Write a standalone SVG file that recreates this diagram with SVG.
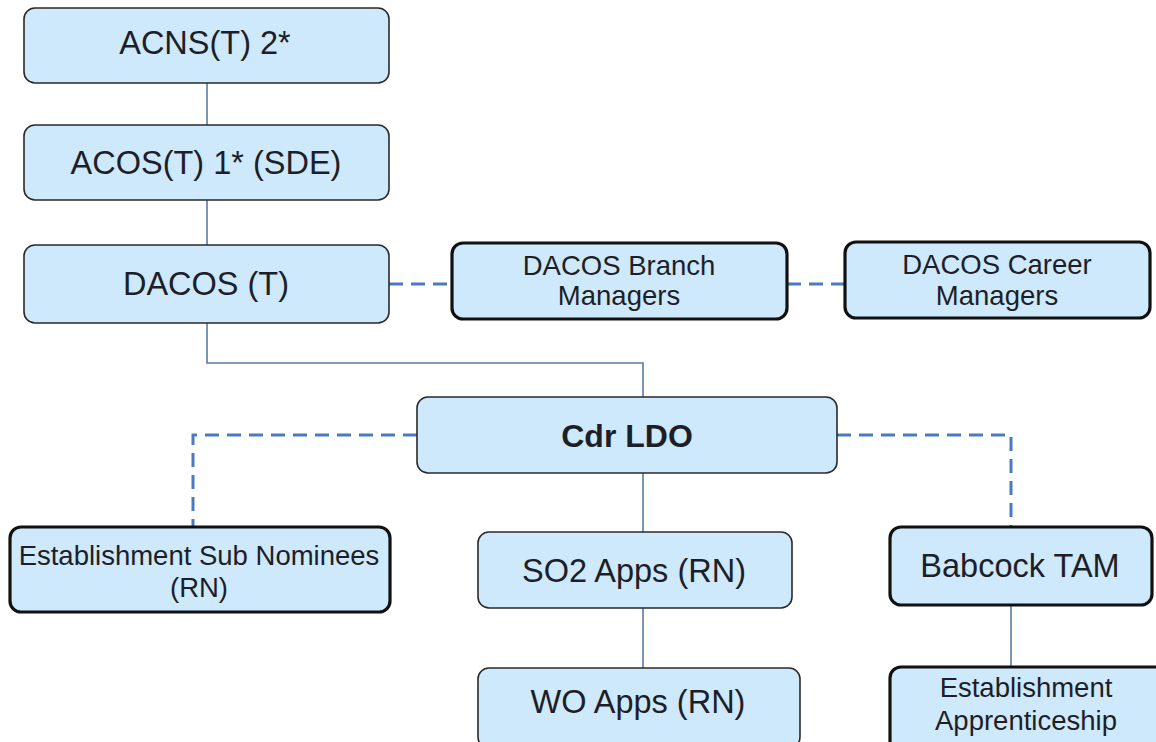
<svg xmlns="http://www.w3.org/2000/svg" width="1156" height="742" viewBox="0 0 1156 742">
<style>
.box{fill:#cde9fb;stroke:#2a2a2a;stroke-width:1.6}
.bold{fill:#cde9fb;stroke:#111;stroke-width:3.2}
text{font-family:"Liberation Sans",Arial,sans-serif;fill:#1e1e28;text-anchor:middle}
.big{font-size:32.5px}
.mid{font-size:27.5px}
.b{font-weight:bold;font-size:32px}
.solid{fill:none;stroke:#5b7ba6;stroke-width:1.6}
.dash{fill:none;stroke:#4a7bbf;stroke-width:3;stroke-dasharray:14 8}
</style>
<rect width="1156" height="742" fill="#fff"/>
<g id="connectors">
<path class="solid" d="M207 83V125"/>
<path class="solid" d="M207 200V245"/>
<path class="solid" d="M207 323V363H643V397"/>
<path class="solid" d="M643 473V532"/>
<path class="solid" d="M643 608V668"/>
<path class="solid" d="M1011 605V667"/>
<path class="dash" d="M389 284H452"/>
<path class="dash" d="M787 284H845"/>
<path class="dash" d="M417 435H193V527"/>
<path class="dash" d="M837 435H1011V527"/>
</g>
<g id="acns">
<rect class="box" x="24" y="8" width="365" height="75" rx="11"/>
<text class="big" x="205" y="54">ACNS(T) 2*</text>
</g>
<g id="acos">
<rect class="box" x="24" y="125" width="365" height="75" rx="11"/>
<text class="big" x="206" y="174">ACOS(T) 1* (SDE)</text>
</g>
<g id="dacos">
<rect class="box" x="24" y="245" width="365" height="78" rx="11"/>
<text class="big" x="206" y="295">DACOS (T)</text>
</g>
<g id="branch">
<rect class="bold" x="452" y="243" width="335" height="76" rx="11"/>
<text class="mid" x="619" y="275">DACOS Branch</text>
<text class="mid" x="619" y="305">Managers</text>
</g>
<g id="career">
<rect class="bold" x="845" y="242" width="305" height="76" rx="11"/>
<text class="mid" x="997" y="274">DACOS Career</text>
<text class="mid" x="997" y="305">Managers</text>
</g>
<g id="cdr">
<rect class="box" x="417" y="397" width="420" height="76" rx="11"/>
<text class="b" x="627" y="447">Cdr LDO</text>
</g>
<g id="estsub">
<rect class="bold" x="10" y="527" width="380" height="85" rx="11"/>
<text class="mid" x="199" y="565">Establishment Sub Nominees</text>
<text class="mid" x="199" y="597">(RN)</text>
</g>
<g id="so2">
<rect class="box" x="478" y="532" width="314" height="76" rx="11"/>
<text class="big" x="634" y="582">SO2 Apps (RN)</text>
</g>
<g id="babcock">
<rect class="bold" x="890" y="527" width="262" height="78" rx="11"/>
<text class="big" x="1020" y="577">Babcock TAM</text>
</g>
<g id="wo">
<rect class="box" x="478" y="668" width="322" height="80" rx="11"/>
<text class="big" x="638" y="713">WO Apps (RN)</text>
</g>
<g id="estapp">
<rect class="bold" x="890" y="667" width="280" height="85" rx="11"/>
<text class="mid" x="1026" y="697">Establishment</text>
<text class="mid" x="1026" y="730">Apprenticeship</text>
</g>
</svg>
